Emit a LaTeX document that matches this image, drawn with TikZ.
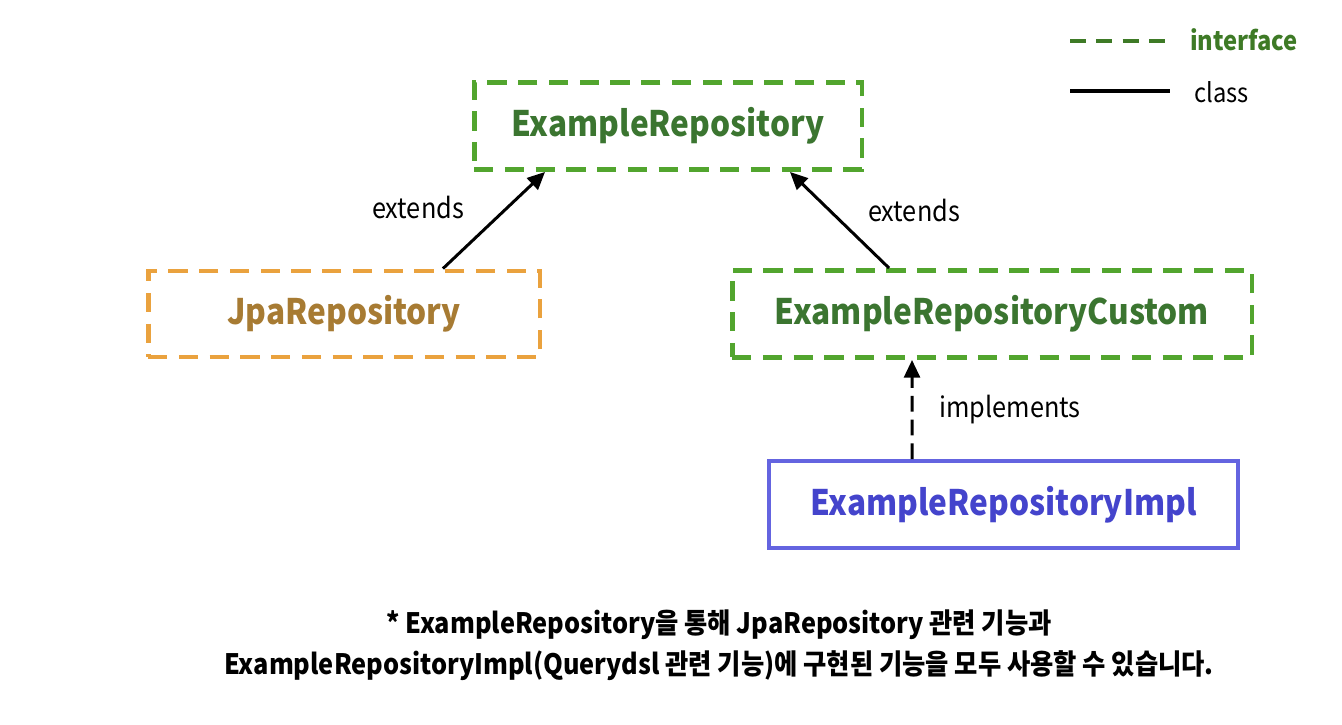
\documentclass[tikz,border=0pt]{standalone}
\usepackage{fontspec}
\setmainfont[FakeStretch=0.9]{Noto Sans CJK KR}
\usetikzlibrary{arrows.meta}

\definecolor{ifacegreen}{HTML}{52A52E}
\definecolor{ifacetext}{HTML}{3B7530}
\definecolor{legendgreen}{HTML}{3E7A26}
\definecolor{jpaorange}{HTML}{EAA23E}
\definecolor{jpatext}{HTML}{A77B33}
\definecolor{implblue}{HTML}{6464E0}
\definecolor{impltext}{HTML}{4444CC}

\begin{document}
\begin{tikzpicture}[x=0.02cm, y=-0.02cm,
    repo/.style={draw, line width=2.8pt, inner sep=0pt, font=\fontsize{20}{24}\selectfont\bfseries},
    iface/.style={repo, ifacegreen, text=ifacetext, dash pattern=on 11pt off 6.5pt},
    lbl/.style={font=\fontsize{16}{19}\selectfont, text=black},
    link/.style={line width=1.7pt, -{Triangle[length=10pt, width=9pt]}}]
  \useasboundingbox (0,0) rectangle (1342,724);

  % the repositories
  \node[iface, minimum width=7.76cm, minimum height=1.74cm] (repo) at (668,126) {ExampleRepository};
  \node[repo, jpaorange, text=jpatext, dash pattern=on 11pt off 6.5pt,
        minimum width=7.84cm, minimum height=1.72cm] (jpa) at (344,314) {JpaRepository};
  \node[iface, minimum width=10.4cm, minimum height=1.74cm] (custom) at (992,314) {ExampleRepositoryCustom};
  \node[repo, implblue, text=impltext, line width=2.2pt,
        minimum width=9.38cm, minimum height=1.74cm] (impl) at (1003.5,504.5) {ExampleRepositoryImpl};

  % relations
  \draw[link] ([xshift=1.98cm]jpa.north) -- ([xshift=-2.46cm]repo.south);
  \draw[link] ([xshift=-2.06cm]custom.north) -- ([xshift=2.44cm]repo.south);
  \draw[link, dash pattern=on 9pt off 4.5pt] ([xshift=-1.83cm]impl.north) -- ([xshift=-1.6cm]custom.south);
  \node[lbl] (ext1) at (418,207) {extends};
  \node[lbl] (ext2) at (914,210) {extends};
  \node[lbl] (impllbl) at (1010,410) {implements};

  % legend
  \coordinate (ifaceA) at (1070,41);
  \coordinate (ifaceB) at (1166,41);
  \coordinate (classA) at (1070,91);
  \coordinate (classB) at (1170,91);
  \draw[legendgreen, line width=2.2pt, dash pattern=on 9pt off 6pt] (ifaceA) -- (ifaceB);
  \draw[black, line width=2pt] (classA) -- (classB);
  \node[lbl, text=legendgreen, font=\fontsize{15}{18}\selectfont\bfseries, anchor=west] (ifacelbl) at (1184,40) {interface};
  \node[lbl, font=\fontsize{15}{18}\selectfont, anchor=west] (classlbl) at (1188,92) {class};

  % note
  \node[font=\fontsize{16}{20}\selectfont\bfseries, align=center] (note) at (719,645)
    {* ExampleRepository을 통해 JpaRepository 관련 기능과\\[3pt]
     ExampleRepositoryImpl(Querydsl 관련 기능)에 구현된 기능을 모두 사용할 수 있습니다.};
\end{tikzpicture}
\end{document}
